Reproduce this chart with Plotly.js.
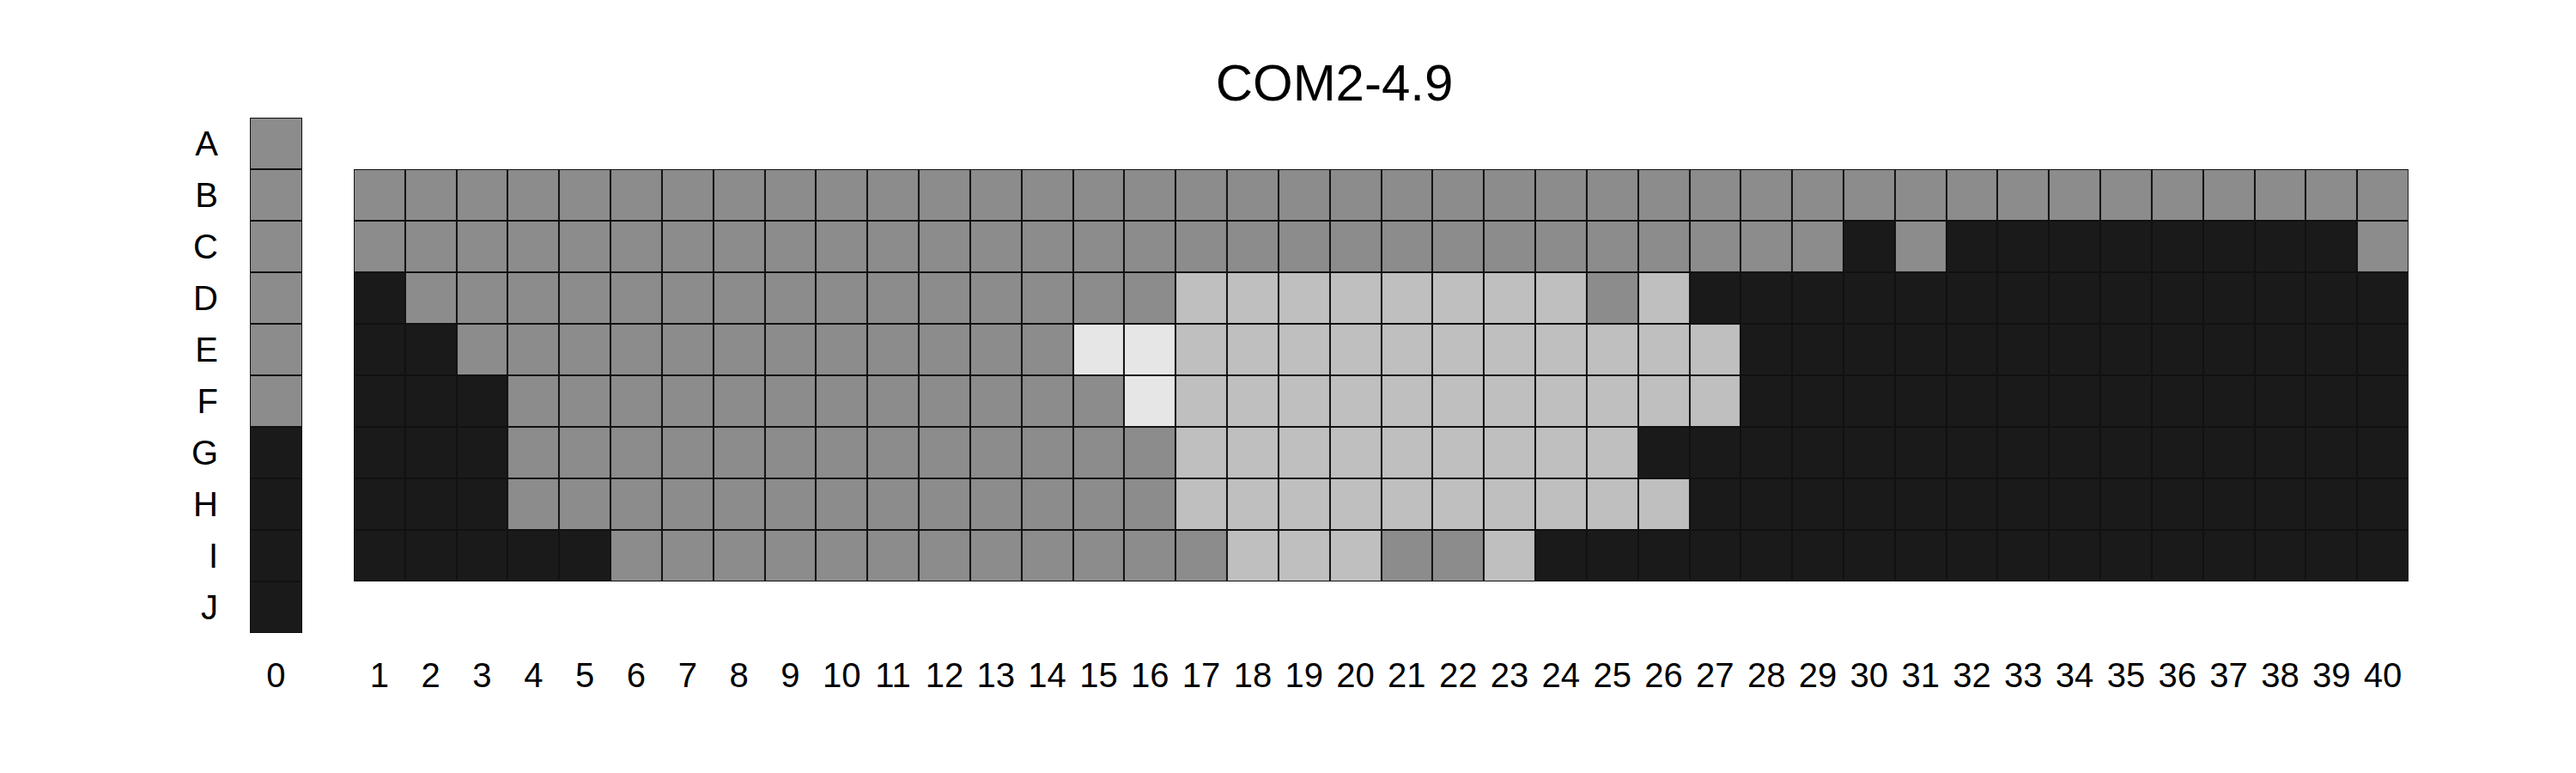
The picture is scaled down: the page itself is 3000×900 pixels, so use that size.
<!DOCTYPE html>
<html>
<head>
<meta charset="utf-8">
<script src="https://cdn.plot.ly/plotly-3.0.1.min.js"></script>
<style>body{margin:0;background:#fff}</style>
</head>
<body>
<div id="myDiv" style="width:3000px;height:900px"></div>
<script>
// 1 = dark, 2 = gray, 3 = light, 4 = very light
var rows0 = ['A','B','C','D','E','F','G','H','I','J'];
var col0 = [2,2,2,2,2,2,1,1,1,1];

var rows = ['B','C','D','E','F','G','H','I'];
var cols = [];
for (var c = 1; c <= 40; c++) cols.push(String(c));

var rowB = [2,2,2,2,2,2,2,2,2,2,2,2,2,2,2,2,2,2,2,2,2,2,2,2,2,2,2,2,2,2,2,2,2,2,2,2,2,2,2,2];
var rowC = [2,2,2,2,2,2,2,2,2,2,2,2,2,2,2,2,2,2,2,2,2,2,2,2,2,2,2,2,2,1,2,1,1,1,1,1,1,1,1,2];
var rowD = [1,2,2,2,2,2,2,2,2,2,2,2,2,2,2,2,3,3,3,3,3,3,3,3,2,3,1,1,1,1,1,1,1,1,1,1,1,1,1,1];
var rowE = [1,1,2,2,2,2,2,2,2,2,2,2,2,2,4,4,3,3,3,3,3,3,3,3,3,3,3,1,1,1,1,1,1,1,1,1,1,1,1,1];
var rowF = [1,1,1,2,2,2,2,2,2,2,2,2,2,2,2,4,3,3,3,3,3,3,3,3,3,3,3,1,1,1,1,1,1,1,1,1,1,1,1,1];
var rowG = [1,1,1,2,2,2,2,2,2,2,2,2,2,2,2,2,3,3,3,3,3,3,3,3,3,1,1,1,1,1,1,1,1,1,1,1,1,1,1,1];
var rowH = [1,1,1,2,2,2,2,2,2,2,2,2,2,2,2,2,3,3,3,3,3,3,3,3,3,3,1,1,1,1,1,1,1,1,1,1,1,1,1,1];
var rowI = [1,1,1,1,1,2,2,2,2,2,2,2,2,2,2,2,2,3,3,3,2,2,3,1,1,1,1,1,1,1,1,1,1,1,1,1,1,1,1,1];

var grid = [rowB,rowC,rowD,rowE,rowF,rowG,rowH,rowI];
var z0 = col0.map(function(v){ return [v]; });

var scale = [[0,'#1a1a1a'],[0.16,'#1a1a1a'],[0.17,'#8c8c8c'],[0.5,'#8c8c8c'],[0.5,'#bfbfbf'],
             [0.83,'#bfbfbf'],[0.84,'#e6e6e6'],[1,'#e6e6e6']];
var black = [[0,'#111'],[1,'#111']];

function hm(x, y, z, xa, cs, gap){
  return {type:'heatmap', x:x, y:y, z:z, xaxis:xa, yaxis:'y', colorscale:cs,
    zmin:1, zmax:4, showscale:false, xgap:gap, ygap:gap, hoverinfo:'skip'};
}

var data = [
  hm(['0'], rows0, z0, 'x', black, 0),
  hm(['0'], rows0, z0, 'x', scale, 2),
  hm(cols, rows, grid, 'x2', black, 0),
  hm(cols, rows, grid, 'x2', scale, 2)
];

var tf = {family:'Liberation Sans, Arial, sans-serif', size:40, color:'#000'};
var layout = {
  width:3000, height:900,
  margin:{l:0, r:0, t:137, b:163},
  paper_bgcolor:'#fff', plot_bgcolor:'#fff',
  title:{text:'COM2-4.9', x:0.518, xanchor:'center', y:0.893, yanchor:'middle',
    font:{family:'Liberation Sans, Arial, sans-serif', size:60, color:'#000'}},
  xaxis:{domain:[0.097,0.1173], type:'category', showgrid:false, zeroline:false, showline:false,
    ticks:'outside', ticklen:14, tickcolor:'#fff', tickfont:tf, anchor:'y'},
  xaxis2:{domain:[0.1373,0.935], type:'category', categoryarray:cols, categoryorder:'array',
    showgrid:false, zeroline:false, showline:false, ticks:'outside', ticklen:14, tickcolor:'#fff',
    tickfont:tf, anchor:'y'},
  yaxis:{type:'category', categoryarray:rows0, categoryorder:'array', autorange:'reversed',
    showgrid:false, zeroline:false, showline:false, ticks:'outside', ticklen:28, tickcolor:'#fff',
    tickfont:tf, anchor:'x'}
};

Plotly.newPlot('myDiv', data, layout, {staticPlot:true});
</script>
</body>
</html>
